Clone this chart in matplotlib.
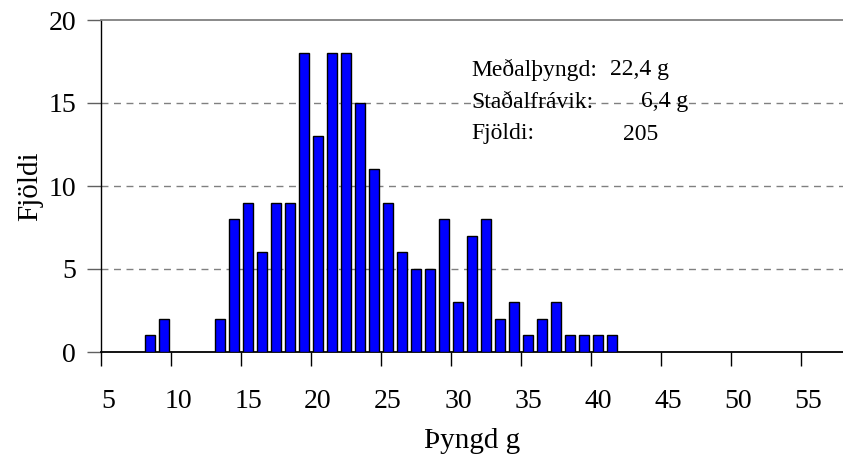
import matplotlib
matplotlib.use("Agg")
import matplotlib.pyplot as plt

weights = [8, 9, 13, 14, 15, 16, 17, 18, 19, 20, 21, 22, 23, 24, 25, 26, 27, 28,
           29, 30, 31, 32, 33, 34, 35, 36, 37, 38, 39, 40, 41]
counts = [1, 2, 2, 8, 9, 6, 9, 9, 18, 13, 18, 18, 15, 11, 9, 6, 5, 5,
          8, 3, 7, 8, 2, 3, 1, 2, 3, 1, 1, 1, 1]
x_tick_labels = [5, 10, 15, 20, 25, 30, 35, 40, 45, 50, 55]
y_ticks = [0, 5, 10, 15, 20]
stats_labels = ["Meðalþyngd:", "Staðalfrávik:", "Fjöldi:"]
stats_values = ["22,4 g", "6,4 g", "205"]

plt.rcParams['font.family'] = ['Liberation Serif', 'DejaVu Serif']

fig = plt.figure(figsize=(8.43, 4.65), dpi=100)
ax = fig.add_axes([101/843, 1 - 352/465, 1 - 101/843, (352 - 20)/465])

ax.set_xlim(4.5, 57.5)
ax.set_ylim(0, 20)

for yv in y_ticks[1:-1]:
    ax.axhline(yv, color='#808080', lw=1.0, ls=(0, (5, 4)), zorder=1)

ax.bar(weights, counts, width=0.72, color='#0000FF', edgecolor='black', linewidth=1.0, zorder=3)

ax.spines['right'].set_visible(False)
ax.spines['top'].set_color('#808080')
ax.spines['top'].set_linewidth(1.3)
ax.spines['left'].set_color('black')
ax.spines['bottom'].set_color('black')
ax.spines['left'].set_linewidth(1.0)
ax.spines['bottom'].set_linewidth(1.3)

# major ticks at category boundaries, minor ticks carry labels
ax.set_xticks([v - 0.5 for v in x_tick_labels])
ax.set_xticklabels([])
ax.tick_params(axis='x', which='major', direction='out', length=10, width=1, color='black')
ax.set_xticks(x_tick_labels, minor=True)
ax.set_xticklabels([str(v) for v in x_tick_labels], minor=True)
ax.tick_params(axis='x', which='minor', length=0, pad=27, labelsize=20)

ax.set_yticks(y_ticks)
ax.set_yticklabels([str(v) for v in y_ticks])
ax.tick_params(axis='y', direction='out', length=10, width=1, color='#606060', labelsize=20, pad=8)

ax.set_xlabel("Þyngd g", fontsize=21, labelpad=10)
ax.set_ylabel("Fjöldi", fontsize=21, labelpad=4)

ys = [70, 102, 134]
val_x = [610, 688, 658]
val_ha = ['left', 'right', 'right']
for lab, val, yp, vx, ha in zip(stats_labels, stats_values, ys, val_x, val_ha):
    fig.text(471/843, 1 - yp/465, lab, fontsize=17, ha='left', va='center')
    fig.text(vx/843, 1 - yp/465, val, fontsize=17, ha=ha, va='center')

fig.savefig("out.png", dpi=100)
